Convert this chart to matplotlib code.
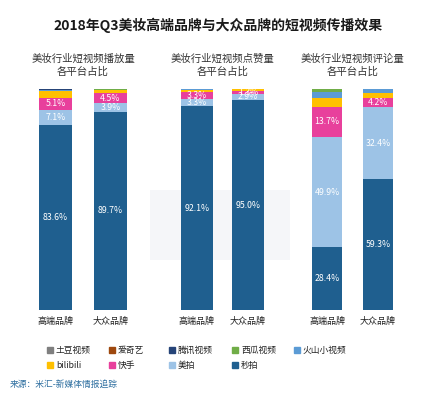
import matplotlib
matplotlib.use("Agg")
import matplotlib.pyplot as plt
from matplotlib.patches import Rectangle
import numpy as np

plt.rcParams['font.family'] = ['Noto Sans CJK SC', 'DejaVu Sans']

title = "2018年Q3美妆高端品牌与大众品牌的短视频传播效果"
panel_titles = ["美妆行业短视频播放量\n各平台占比", "美妆行业短视频点赞量\n各平台占比", "美妆行业短视频评论量\n各平台占比"]
categories = ["高端品牌", "大众品牌"]
series = ["土豆视频", "爱奇艺", "腾讯视频", "西瓜视频", "火山小视频", "bilibili", "快手", "美拍", "秒拍"]
colors = ["#7f7f7f", "#9e480e", "#264478", "#70ad47", "#5b9bd5", "#ffc000", "#e8409c", "#9dc3e6", "#1f5f8f"]

# values per panel, order of stack bottom->top: 秒拍, 美拍, 快手, bilibili, 火山, 西瓜, 腾讯, 爱奇艺, 土豆
miaopai = [[83.6, 89.7], [92.1, 95.0], [28.4, 59.3]]
meipai = [[7.1, 3.9], [3.3, 2.9], [49.9, 32.4]]
kuaishou = [[5.1, 4.5], [3.3, 1.3], [13.7, 4.2]]
bilibili = [[3.3, 1.4], [1.0, 0.6], [4.1, 2.4]]
huoshan = [[0.3, 0.2], [0.1, 0.1], [2.7, 1.5]]
xigua = [[0.3, 0.1], [0.1, 0.05], [1.2, 0.2]]
tengxun = [[0.1, 0.1], [0.05, 0.05], [0.0, 0.0]]
iqiyi = [[0.1, 0.05], [0.05, 0.0], [0.0, 0.0]]
tudou = [[0.1, 0.05], [0.0, 0.0], [0.0, 0.0]]

stack_data = [miaopai, meipai, kuaishou, bilibili, huoshan, xigua, tengxun, iqiyi, tudou]
stack_names = ["秒拍", "美拍", "快手", "bilibili", "火山小视频", "西瓜视频", "腾讯视频", "爱奇艺", "土豆视频"]
label_series = {"秒拍", "美拍", "快手"}
color_map = dict(zip(series, colors))

W, H = 437, 400
fig = plt.figure(figsize=(W / 100, H / 100), dpi=100)

def fx(px):
    return px / W

def fy(py):
    return 1 - py / H

# faint background watermark block
bg = fig.add_axes([0, 0, 1, 1], zorder=-10)
bg.set_xlim(0, W)
bg.set_ylim(H, 0)
bg.axis("off")
bg.add_patch(Rectangle((150, 190), 140, 70, color="#f5f6f9", linewidth=0))

fig.text(fx(218), fy(25), title, ha="center", va="center", fontsize=10, fontweight="bold", color="#1a1a1a")

# panel geometry in px: (center1, center2, bar width)
panels = [(55.5, 110.5, 33), (197, 248, 32), (327, 378, 30)]
top_px, bot_px = 89, 310
for p, (c1, c2, bw) in enumerate(panels):
    sp = c2 - c1
    wfrac = bw / sp
    left_px = c1 - sp * 0.8
    right_px = c2 + sp * 0.8
    ax = fig.add_axes([fx(left_px), fy(bot_px), fx(right_px - left_px), (bot_px - top_px) / H], zorder=1)
    ax.set_xlim(-0.8, 1.8)
    ax.set_ylim(0, 100)
    ax.patch.set_alpha(0)
    x = np.arange(len(categories))
    bottom = np.zeros(len(categories))
    for name, data in zip(stack_names, stack_data):
        vals = np.array(data[p], dtype=float)
        ax.bar(x, vals, width=wfrac, bottom=bottom, color=color_map[name], linewidth=0)
        if name in label_series:
            for xi, v, b in zip(x, vals, bottom):
                ax.text(xi, b + v / 2, f"{v:.1f}%", ha="center", va="center", color="white", fontsize=6.3)
        bottom += vals
    ax.set_xticks(x)
    ax.set_xticklabels(categories, fontsize=6.5, color="#222222")
    ax.tick_params(axis='x', length=0, pad=5)
    ax.set_yticks([])
    for s in ax.spines.values():
        s.set_visible(False)
    fig.text(fx((c1 + c2) / 2), fy(65), panel_titles[p], ha="center", va="center", fontsize=7.5,
             color="#333333", linespacing=1.3)

# legend (row-major)
leg_x = [50, 112, 172, 235, 297]
leg_y = [350, 365]
for i, name in enumerate(series):
    r, c = divmod(i, 5)
    x0, y0 = leg_x[c], leg_y[r]
    fig.patches.append(Rectangle((fx(x0 - 3), fy(y0 + 3)), fx(6), 6 / H, transform=fig.transFigure,
                                 color=colors[i], figure=fig))
    fig.text(fx(x0 + 6), fy(y0), name, ha="left", va="center", fontsize=6.3, color="#222222")

fig.text(fx(10), fy(384), "来源：米汇-新媒体情报追踪", ha="left", va="center", fontsize=6.3, color="#2e6fa0")

fig.savefig("out.png", dpi=100)
